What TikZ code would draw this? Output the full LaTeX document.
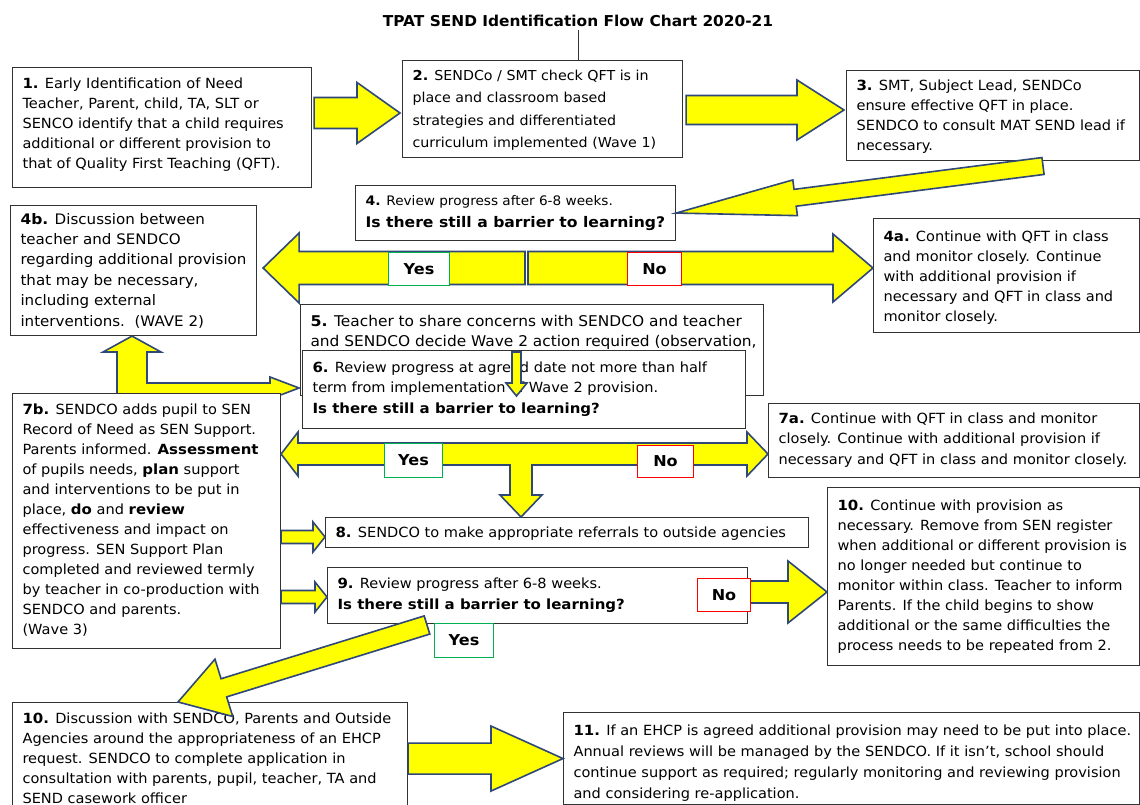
\documentclass[tikz,border=0pt]{standalone}
\usepackage{fontspec}
\setmainfont{DejaVu Sans}[FakeStretch=1.04, BoldFeatures={FakeStretch=1.07}]
\newfontfamily\titlefont{DejaVu Sans}[FakeStretch=1.026]
\usetikzlibrary{calc}
\definecolor{ayellow}{RGB}{255,255,0}
\definecolor{aedge}{RGB}{47,72,120}
\definecolor{yesgreen}{RGB}{0,176,80}
\definecolor{nored}{RGB}{255,0,0}
\definecolor{boxedge}{RGB}{50,50,50}
% #1 width, #2 height, #3 font size, #4 line skip, #5 first-line offset, #6 text
\newcommand\bx[6]{\makebox[\dimexpr#1pt-20pt\relax][l]{\parbox[c][#2pt][t]{\dimexpr#1pt+100pt\relax}{\fontsize{#3pt}{#4pt}\selectfont\raggedright\vspace*{\dimexpr#5pt-7.5pt\relax}\rule{0pt}{12pt}#6}}}
% block arrow: #1 prefix, #2 tail, #3 tip, #4 shaft half width, #5 head half width, #6 head length
\newcommand\barrow[6]{%
  \coordinate (#1c) at ($(#3)!#6pt!(#2)$);
  \filldraw[blockarrow] ($(#2)!#4pt!90:(#3)$) -- ($(#1c)!#4pt!90:(#3)$) -- ($(#1c)!#5pt!90:(#3)$) -- (#3) -- ($(#1c)!#5pt!-90:(#3)$) -- ($(#1c)!#4pt!-90:(#3)$) -- ($(#2)!#4pt!-90:(#3)$) -- cycle;}
\tikzset{
  box/.style={draw=boxedge, line width=1.1pt, fill=white, inner xsep=10pt, inner ysep=0pt, anchor=north west},
  blockarrow/.style={fill=ayellow, draw=aedge, line width=1.6pt, line join=miter},
  lbl/.style={draw, fill=white, line width=1pt, inner sep=0pt, anchor=north west, font=\bfseries\fontsize{15pt}{18pt}\selectfont},
  yes/.style={lbl, draw=yesgreen},
  no/.style={lbl, draw=nored}
}
\begin{document}
\begin{tikzpicture}[x=1pt,y=-1pt]
\fill[white] (0,0) rectangle (1140,805);
\useasboundingbox (0,0) rectangle (1140,805);

\node[font=\titlefont\bfseries\fontsize{15pt}{18pt}\selectfont] (title) at (578,21) {TPAT SEND Identification Flow Chart 2020-21};

% top row
\node[box] (b1) at (12,67) {\bx{299}{120}{14}{20}{16}{\textbf{1.} Early Identification of Need\\Teacher, Parent, child, TA, SLT or\\SENCO identify that a child requires\\additional or different provision to\\that of Quality First Teaching (QFT).}};
\node[box] (b2) at (402,60) {\bx{280}{97}{13.7}{22.5}{15}{\textbf{2.} SENDCo / SMT check QFT is in\\place and classroom based\\strategies and differentiated\\curriculum implemented (Wave 1)}};
\node[box] (b3) at (846,70) {\bx{293}{90}{14}{20}{15}{\textbf{3.} SMT, Subject Lead, SENDCo\\ensure effective QFT in place.\\SENDCO to consult MAT SEND lead if\\necessary.}};
\draw[boxedge, line width=0.8pt] (title.south) -- (title.south |- b2.north);

\coordinate (a12t) at ($(b1.east |- 0,113)+(2,0)$);
\coordinate (a12h) at ($(b2.west |- 0,113)+(-2,0)$);
\barrow{a12}{a12t}{a12h}{15.5}{30.5}{43}
\coordinate (a23t) at ($(b2.east |- 0,110)+(3,0)$);
\coordinate (a23h) at ($(b3.west |- 0,110)+(-2,0)$);
\barrow{a23}{a23t}{a23h}{14.5}{30}{47}

% review 4
\node[box] (b4) at (355,185) {\bx{320}{55}{13.1}{22}{15}{\textbf{4.} Review progress after 6-8 weeks.\\\fontsize{14.6pt}{22pt}\selectfont\textbf{Is there still a barrier to learning?}}};
\coordinate (a34t) at (1043,166);
\barrow{a34}{a34t}{b4.east}{8.5}{18}{120}

\node[box] (b4b) at (10,205) {\bx{246}{130}{14.5}{20.4}{14}{\textbf{4b.} Discussion between\\teacher and SENDCO\\regarding additional provision\\that may be necessary,\\including external\\interventions.\ \ (WAVE 2)}};
\node[box] (b4a) at (873,218) {\bx{266}{114}{14}{20}{18}{\textbf{4a.} Continue with QFT in class\\and monitor closely. Continue\\with additional provision if\\necessary and QFT in class and\\monitor closely.}};

\coordinate (ayt) at (525,268);
\coordinate (ayh) at ($(b4b.east |- 0,268)+(6,0)$);
\barrow{ay}{ayt}{ayh}{16.5}{35}{36}
\coordinate (ant) at (528,268);
\coordinate (anh) at (b4a.west |- 0,268);
\barrow{an}{ant}{anh}{16.5}{34}{40}
\node[yes, minimum width=61pt, minimum height=33pt] (y4) at (388,252) {Yes};
\node[no, minimum width=54pt, minimum height=33pt] (n4) at (627,252) {No};

% 5 and 6
\node[box] (b5) at (300,304) {\bx{463}{91}{14.8}{20}{17}{\textbf{5.} Teacher to share concerns with SENDCO and teacher\\and SENDCO decide Wave 2 action required (observation,}};

% L-shaped arrow from 7b to 4b and 6
\filldraw[blockarrow] (b4b.south -| 132,0) -- (161,352) -- (147,352) -- (147,383) -- (270,383) -- (270,377) -- (299,388) -- (270,399) -- (270,405) -- (117,405) -- (117,352) -- (103,352) -- cycle;

\node[box] (b6) at (302,350) {\bx{443}{78}{14}{20.5}{17}{\textbf{6.} Review progress at agreed date not more than half\\term from implementation of Wave 2 provision.\\\textbf{Is there still a barrier to learning?}}};
\coordinate (a56t) at (516.5,352);
\coordinate (a56h) at (516.5,396);
\barrow{a56}{a56t}{a56h}{4.5}{10.5}{13}

% 7b, 7a
\node[box] (b7b) at (12,393) {\bx{268}{255}{14}{20}{16}{\textbf{7b.} SENDCO adds pupil to SEN\\Record of Need as SEN Support.\\Parents informed. \textbf{Assessment}\\of pupils needs, \textbf{plan} support\\and interventions to be put in\\place, \textbf{do} and \textbf{review}\\effectiveness and impact on\\progress. SEN Support Plan\\completed and reviewed termly\\by teacher in co-production with\\SENDCO and parents.\\(Wave 3)}};
\node[box] (b7a) at (768,403) {\bx{371}{74}{14}{20.5}{15}{\textbf{7a.} Continue with QFT in class and monitor\\closely. Continue with additional provision if\\necessary and QFT in class and monitor closely.}};

\node[box] (b8) at (325,517) {\bx{483}{30}{14}{20}{15}{\textbf{8.} SENDCO to make appropriate referrals to outside agencies}};

% T-shaped double arrow
\filldraw[blockarrow] (b7b.east |- 0,454) -- (298,432) -- (298,443) -- (747,443) -- (747,432) -- (b7a.west |- 0,454) -- (747,476) -- (747,465) -- (532,465) -- (532,495) -- (542,495) -- (b8.north -| 521,0) -- (500,495) -- (510,495) -- (510,465) -- (298,465) -- (298,476) -- cycle;
\node[yes, minimum width=58pt, minimum height=34pt] (y6) at (384,443) {Yes};
\node[no, minimum width=56pt, minimum height=32pt] (n6) at (637,445) {No};

\node[box] (b9) at (327,567) {\bx{420}{56}{14}{21}{16}{\textbf{9.} Review progress after 6-8 weeks.\\\textbf{Is there still a barrier to learning?}}};

\coordinate (a78t) at (b7b.east |- 0,537);
\coordinate (a78h) at (b8.west |- 0,537);
\barrow{a78}{a78t}{a78h}{6.5}{15}{12}
\coordinate (a79t) at (b7b.east |- 0,597);
\coordinate (a79h) at (b9.west |- 0,597);
\barrow{a79}{a79t}{a79h}{6.5}{15}{12}

\node[box] (b10r) at (827,487) {\bx{312}{178}{14}{20}{18}{\textbf{10.} Continue with provision as\\necessary. Remove from SEN register\\when additional or different provision is\\no longer needed but continue to\\monitor within class. Teacher to inform\\Parents. If the child begins to show\\additional or the same difficulties the\\process needs to be repeated from 2.}};

\coordinate (a9rt) at (748,592);
\coordinate (a9rh) at (b10r.west |- 0,592);
\barrow{a9r}{a9rt}{a9rh}{11}{31}{39}
\node[no, minimum width=53pt, minimum height=33pt] (n9) at (697,578) {No};

% bottom row
\node[box] (b10b) at (12,702) {\bx{395}{104}{14}{20}{16}{\textbf{10.} Discussion with SENDCO, Parents and Outside\\Agencies around the appropriateness of an EHCP\\request. SENDCO to complete application in\\consultation with parents, pupil, teacher, TA and\\SEND casework officer}};
\node[box] (b11) at (563,712) {\bx{576}{92}{14}{21}{18}{\textbf{11.} If an EHCP is agreed additional provision may need to be put into place.\\Annual reviews will be managed by the SENDCO. If it isn’t, school should\\continue support as required; regularly monitoring and reviewing provision\\and considering re-application.}};

\coordinate (a9bt) at (427,625);
\coordinate (a9bh) at (b10b.north -| 178,0);
\barrow{a9b}{a9bt}{a9bh}{9.5}{30}{48}
\node[yes, minimum width=59pt, minimum height=34pt] (y9) at (434,623) {Yes};

\coordinate (abt) at (b10b.east |- b11.west);
\barrow{ab}{abt}{b11.west}{15.5}{32.5}{72}
\end{tikzpicture}
\end{document}
